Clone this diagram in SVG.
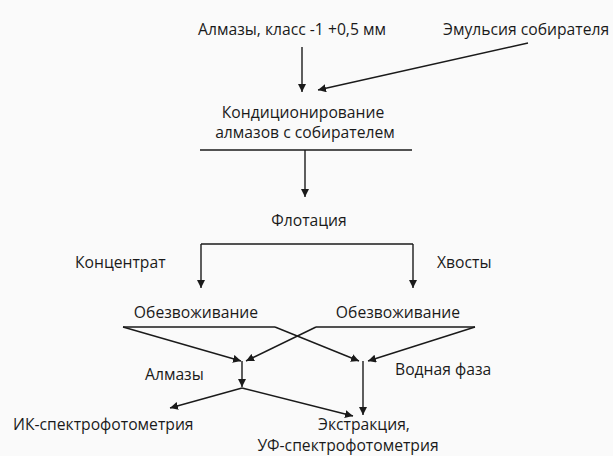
<svg xmlns="http://www.w3.org/2000/svg" width="613" height="456" viewBox="0 0 613 456">
<style>
text{font-family:"Open Sans","Liberation Sans",sans-serif;font-size:15.7px;fill:#1a1a1a}
.c{fill:none;stroke:#1a1a1a;stroke-width:1.4}
.a{marker-end:url(#ah)}
</style>
<defs>
<marker id="ah" viewBox="0 0 10 10" refX="10" refY="5" markerWidth="8" markerHeight="8" markerUnits="userSpaceOnUse" orient="auto"><path d="M0,0L10,5L0,10z" fill="#1a1a1a"/></marker>
</defs>
<rect width="613" height="456" fill="#fafafa"/>
<g id="n-almazy-in"><text x="292" y="35" text-anchor="middle">Алмазы, класс -1 +0,5 мм</text></g>
<g id="n-emulsion"><text x="443" y="35">Эмульсия собирателя</text></g>
<g id="n-cond"><text x="303" y="118" text-anchor="middle">Кондиционирование</text><text x="305" y="138" text-anchor="middle">алмазов с собирателем</text></g>
<g id="n-flot"><text x="309" y="226" text-anchor="middle">Флотация</text></g>
<g id="n-conc"><text x="75" y="268">Концентрат</text></g>
<g id="n-tail"><text x="437" y="268">Хвосты</text></g>
<g id="n-dew1"><text x="196" y="318" text-anchor="middle">Обезвоживание</text></g>
<g id="n-dew2"><text x="398" y="318" text-anchor="middle">Обезвоживание</text></g>
<g id="n-alm"><text x="145" y="380">Алмазы</text></g>
<g id="n-water"><text x="395" y="375">Водная фаза</text></g>
<g id="n-ik"><text x="13" y="430">ИК-спектрофотометрия</text></g>
<g id="n-ext"><text x="364" y="430" text-anchor="middle">Экстракция,</text><text x="348" y="451" text-anchor="middle">УФ-спектрофотометрия</text></g>
<g id="connectors">
<path class="c a" d="M302,47V92"/>
<path class="c a" d="M528,43L318,90"/>
<path class="c" d="M200,150H412"/>
<path class="c a" d="M305,150V197"/>
<path class="c" d="M201,244H413"/>
<path class="c a" d="M201,244V288"/>
<path class="c a" d="M413,244V288"/>
<path class="c" d="M123,327H275"/>
<path class="c a" d="M123,327L241,361"/>
<path class="c a" d="M275,327L359,361"/>
<path class="c" d="M316,327H475"/>
<path class="c a" d="M316,327L246,361"/>
<path class="c a" d="M475,327L368,361"/>
<path class="c a" d="M242,361V387"/>
<path class="c a" d="M242,388L170,408"/>
<path class="c a" d="M242,388L353,416"/>
<path class="c a" d="M363,361V415"/>
</g>
</svg>
